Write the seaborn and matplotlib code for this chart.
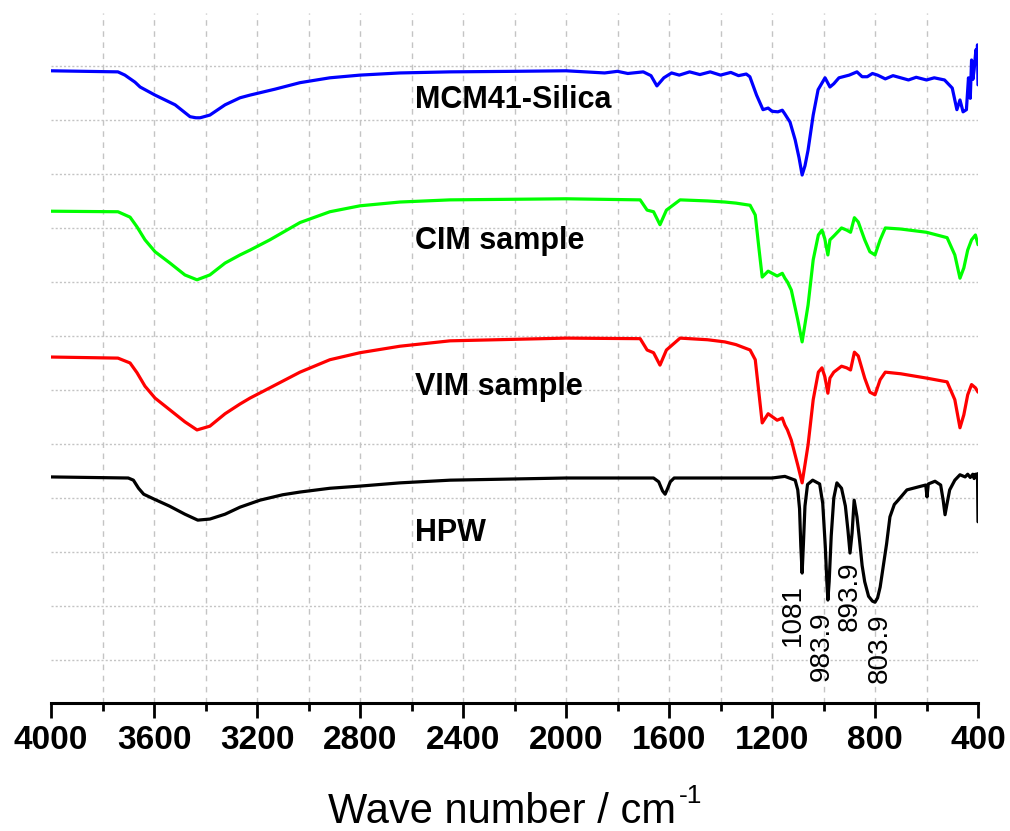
import matplotlib
matplotlib.use("Agg")
import matplotlib.pyplot as plt
import seaborn as sns
import pandas as pd
from matplotlib.ticker import MultipleLocator

# ---------------- data (wavenumber, signal in arbitrary offset units) ----------------
mcm_w = [4000, 3740, 3713, 3674, 3654, 3596, 3518, 3460, 3437, 3421, 3383, 3324, 3266, 3227,
         3130, 3033, 2917, 2800, 2645, 2450, 2200, 2000, 1850, 1800, 1760, 1700, 1670, 1647,
         1620, 1590, 1560, 1520, 1480, 1440, 1400, 1360, 1330, 1300, 1286, 1260, 1235, 1215,
         1200, 1177, 1160, 1150, 1130, 1110, 1095, 1083, 1072, 1060, 1040, 1021, 994, 975,
         960, 940, 900, 870, 850, 830, 810, 790, 760, 730, 700, 670, 640, 600, 570, 530, 500,
         482, 470, 458, 445, 437, 430, 425, 420, 415, 410, 408, 404, 402, 400]
mcm_v = [119.1, 118.9, 118.3, 117.0, 116.1, 114.6, 112.8, 110.6, 110.4, 110.4, 110.9, 112.8,
         114.1, 114.6, 115.7, 116.9, 117.8, 118.3, 118.7, 118.9, 119.0, 119.1, 118.7, 119.0,
         118.6, 118.9, 118.2, 116.3, 117.8, 118.7, 118.3, 118.9, 118.4, 118.9, 118.3, 118.8,
         118.2, 118.5, 118.0, 114.6, 111.9, 112.2, 111.6, 111.5, 111.8, 111.1, 109.6, 106.3,
         103.0, 99.8, 101.5, 104.4, 110.9, 115.6, 117.8, 116.1, 116.7, 117.8, 118.3, 118.9,
         118.0, 118.0, 118.6, 118.3, 117.6, 118.2, 117.8, 117.4, 117.9, 117.4, 117.8, 117.4,
         115.9, 111.9, 113.7, 111.5, 111.9, 117.8, 114.0, 121.1, 117.5, 119.3, 122.0, 123.0,
         120.5, 123.9, 116.5]

cim_w = [4000, 3740, 3693, 3666, 3635, 3596, 3538, 3480, 3433, 3383, 3324, 3266, 3227, 3150,
         3033, 2917, 2800, 2645, 2450, 2000, 1712, 1685, 1660, 1635, 1610, 1557, 1450, 1383,
         1340, 1285, 1265, 1250, 1238, 1215, 1180, 1160, 1150, 1140, 1125, 1100, 1083, 1060,
         1040, 1020, 1006, 995, 983, 975, 960, 930, 910, 895, 880, 865, 840, 820, 800, 780,
         760, 700, 600, 520, 490, 470, 455, 440, 425, 410, 400]
cim_v = [93.1, 93.0, 92.0, 90.2, 87.8, 85.6, 83.5, 81.3, 80.4, 81.3, 83.5, 85.0, 85.9, 87.8,
         91.0, 93.0, 94.1, 94.8, 95.2, 95.4, 95.2, 93.3, 93.0, 90.6, 93.3, 95.2, 95.0, 94.8,
         94.6, 94.2, 92.4, 85.9, 80.9, 82.0, 81.1, 81.6, 80.7, 80.0, 78.5, 73.0, 68.9, 75.7,
         84.1, 88.7, 89.6, 88.0, 85.0, 87.8, 88.5, 90.0, 89.6, 89.2, 91.9, 91.1, 87.8, 85.6,
         85.0, 87.8, 90.0, 89.8, 89.2, 88.2, 85.0, 80.7, 82.6, 85.9, 87.8, 88.7, 86.9]

vim_w = cim_w
vim_v = [66.1, 65.9, 65.0, 63.2, 60.7, 58.5, 56.3, 54.1, 52.6, 53.3, 55.6, 57.4, 58.5, 60.4,
         63.3, 65.6, 66.9, 68.1, 69.1, 69.6, 69.5, 67.4, 66.9, 64.6, 67.4, 69.6, 69.3, 68.9,
         68.4, 67.4, 65.6, 59.1, 53.9, 55.6, 54.4, 54.8, 53.5, 52.6, 50.7, 46.1, 42.8, 49.8,
         58.2, 63.3, 64.1, 62.5, 59.4, 62.2, 63.3, 64.4, 64.1, 63.7, 67.0, 66.3, 62.2, 59.6,
         59.1, 61.9, 63.3, 63.0, 62.2, 61.5, 58.2, 53.0, 55.4, 59.1, 61.0, 60.4, 59.6]

hpw_w = [4000, 3700, 3680, 3660, 3640, 3600, 3540, 3480, 3430, 3383, 3324, 3266, 3188, 3100,
         3033, 2917, 2800, 2645, 2450, 2000, 1660, 1640, 1625, 1615, 1605, 1595, 1580, 1200,
         1150, 1110, 1100, 1093, 1088, 1083, 1078, 1072, 1062, 1042, 1015, 1003, 993, 987,
         983, 978, 970, 960, 948, 930, 915, 905, 897, 889, 881, 870, 860, 850, 840, 825, 810,
         800, 790, 780, 770, 755, 742, 725, 710, 676, 620, 603, 598, 593, 567, 545, 535, 528,
         520, 510, 490, 470, 450, 440, 430, 420, 415, 410, 405, 402, 400]
hpw_v = [43.9, 43.7, 43.3, 41.8, 40.7, 39.8, 38.5, 37.0, 35.9, 36.1, 37.0, 38.3, 39.6, 40.6,
         41.1, 41.8, 42.2, 42.8, 43.3, 43.7, 43.7, 43.0, 41.3, 40.7, 41.8, 43.0, 43.7, 43.7,
         44.0, 43.3, 41.5, 38.0, 31.0, 26.1, 31.5, 38.5, 42.5, 43.3, 42.6, 39.0, 31.0, 24.5,
         21.1, 24.5, 33.0, 40.0, 42.8, 41.8, 38.5, 34.0, 29.8, 33.5, 39.6, 36.5, 32.2, 27.5,
         24.5, 21.8, 20.9, 20.7, 21.5, 23.5, 26.7, 31.5, 36.5, 38.8, 39.6, 41.5, 42.2, 42.4,
         40.2, 42.6, 43.1, 42.4, 39.5, 36.9, 39.0, 41.5, 43.3, 44.3, 43.9, 44.4, 43.8, 44.4,
         43.6, 44.4, 43.9, 44.5, 35.6]

names = ["MCM41-Silica", "CIM sample", "VIM sample", "HPW"]
colors = ["#0000ff", "#00ff00", "#ff0000", "#000000"]
label_y = [113.6, 87.6, 60.5, 33.6]
peak_pos = [1118, 1006, 897, 781]
peak_labels = ["1081", "983.9", "893.9", "803.9"]
peak_top = [24.0, 19.0, 28.2, 18.6]

frames = []
for n, w, v in zip(names, [mcm_w, cim_w, vim_w, hpw_w], [mcm_v, cim_v, vim_v, hpw_v]):
    frames.append(pd.DataFrame({"wavenumber": w, "signal": v, "sample": n}))
df = pd.concat(frames, ignore_index=True)

# ---------------- plot ----------------
sns.set_theme(style="white")
plt.rcParams["font.family"] = ["Liberation Sans", "DejaVu Sans"]
plt.rcParams["text.color"] = "black"

fig = plt.figure(figsize=(10.10, 8.31), dpi=100)
ax = fig.add_axes([51 / 1010, 1 - 703 / 831, (978 - 51) / 1010, (703 - 13) / 831])

sns.lineplot(data=df, x="wavenumber", y="signal", hue="sample", hue_order=names,
             palette=dict(zip(names, colors)), sort=False, estimator=None,
             linewidth=2.3, legend=False, ax=ax, zorder=3)

ax.set_xlim(4000, 400)
ax.set_ylim(2.04, 129.8)

ax.xaxis.set_major_locator(MultipleLocator(400))
ax.xaxis.set_minor_locator(MultipleLocator(200))
ax.yaxis.set_major_locator(MultipleLocator(10))

ax.grid(False)
for xv in range(3800, 400, -200):
    ax.axvline(xv, color="#c4c4c4", lw=1.0, ls=(0, (4, 4)), zorder=1)
for yv in range(10, 130, 10):
    ax.axhline(yv, color="#c4c4c4", lw=1.0, ls=(0, (1.5, 1.5)), zorder=1)

for s in ["left", "right", "top"]:
    ax.spines[s].set_visible(False)
ax.spines["bottom"].set_linewidth(2.2)
ax.spines["bottom"].set_color("black")

ax.tick_params(axis="x", which="major", direction="out", length=11, width=2.0,
               color="black", bottom=True, labelsize=24, pad=5, labelcolor="black")
ax.tick_params(axis="x", which="minor", direction="out", length=6, width=2.0,
               color="black", bottom=True)
ax.tick_params(axis="y", which="both", left=False, labelleft=False)
for lab in ax.get_xticklabels():
    lab.set_fontweight("bold")

ax.set_ylabel("")
ax.set_xlabel("Wave number / cm", fontsize=30, labelpad=26, color="black")
ax.xaxis.label.set_x(0.487)

for n, yv in zip(names, label_y):
    ax.text(2587, yv, n, fontsize=22, fontweight="bold", ha="left", va="center",
            color="black", zorder=4)

for xp, lab, yt in zip(peak_pos, peak_labels, peak_top):
    ax.text(xp, yt, lab, fontsize=20, rotation=90, ha="center", va="top",
            color="black", zorder=4)

# superscript "-1" placed right after the axis label
fig.canvas.draw()
bb = ax.xaxis.label.get_window_extent(fig.canvas.get_renderer())
fig.text((bb.x1 + 2) / fig.bbox.width, (831 - 803) / 831, "-1", fontsize=19,
         ha="left", va="baseline", color="black")

fig.savefig("out.png", dpi=100)
